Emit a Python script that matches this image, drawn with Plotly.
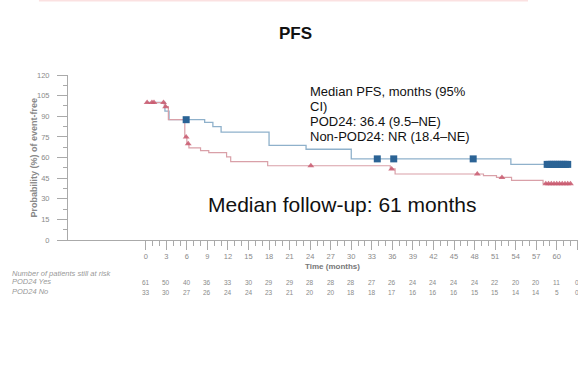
import plotly.graph_objects as go

# ---- data -------------------------------------------------------------
# Kaplan-Meier step curves (time in months, event-free probability in %)
pod24_t = [0, 2.7, 3.3, 5.7, 6.0, 6.3, 8.0, 9.2, 11.8, 12.4, 17.8, 35.7, 36.4, 49.3, 51.2, 53.4, 58.0, 62.2]
pod24_s = [100, 97, 87.5, 75, 70, 67, 65, 63.5, 60.5, 57, 54, 51.7, 48, 46.8, 45.5, 43.3, 41, 41]
pod24_censor_t = [0.2, 0.9, 1.2, 2.6, 2.9, 5.9, 6.2, 24.1, 35.9, 48.4, 52.0,
                  58.4, 58.8, 59.2, 59.6, 60.0, 60.4, 60.8, 61.2, 61.6, 62.0]

non_t = [0, 2.8, 3.4, 8.6, 9.8, 11.0, 18.0, 23.4, 30.0, 53.3, 61.7]
non_s = [100, 93.8, 87.5, 85.5, 82.5, 78.5, 68.8, 66, 59, 55, 55]
non_censor_t = [5.9, 33.8, 36.2, 47.8, 58.6, 58.9, 59.2, 59.5, 59.8, 60.1, 60.4, 60.7, 61.0, 61.3, 61.6]

# number at risk table
risk_months = list(range(0, 64, 3))
risk_yes = [61, 50, 40, 36, 33, 30, 29, 29, 28, 28, 28, 27, 26, 24, 24, 24, 24, 22, 20, 20, 11, 0]
risk_no = [33, 30, 27, 26, 24, 24, 23, 21, 20, 20, 18, 18, 17, 16, 16, 16, 15, 15, 14, 14, 5, 0]

y_ticks = list(range(0, 121, 15))
legend_lines = ["Median PFS, months (95%", "CI)", "POD24: 36.4 (9.5–NE)", "Non-POD24: NR (18.4–NE)"]


def step_value(t, times, surv):
    """Value of a right-continuous step curve at time t."""
    v = surv[0]
    for ti, si in zip(times, surv):
        if ti <= t:
            v = si
        else:
            break
    return v


FONT = "Arial, Liberation Sans, sans-serif"
GREY = "#8a8a8a"

fig = go.Figure()

fig.add_trace(go.Scatter(x=non_t, y=non_s, mode="lines", line=dict(shape="hv", color="#8fb1cb", width=1.3),
                         hoverinfo="skip", showlegend=False))
fig.add_trace(go.Scatter(x=pod24_t, y=pod24_s, mode="lines", line=dict(shape="hv", color="#d9a0a8", width=1.2),
                         hoverinfo="skip", showlegend=False))

fig.add_trace(go.Scatter(x=non_censor_t, y=[step_value(t, non_t, non_s) for t in non_censor_t],
                         mode="markers", marker=dict(symbol="square", size=7, color="#2b6395"),
                         showlegend=False, cliponaxis=False))
fig.add_trace(go.Scatter(x=pod24_censor_t, y=[step_value(t, pod24_t, pod24_s) for t in pod24_censor_t],
                         mode="markers", marker=dict(symbol="triangle-up", size=6, color="#c95a70", opacity=0.85),
                         showlegend=False, cliponaxis=False))

ann = []
# number-at-risk rows, placed on the x scale
for row, yp in ((risk_yes, -0.293), (risk_no, -0.352)):
    for m, v in zip(risk_months, row):
        ann.append(dict(text=str(v), x=m, y=yp, xref="x", yref="paper", showarrow=False,
                        font=dict(size=6.5, color=GREY, family=FONT)))

ann.append(dict(text="<b>PFS</b>", x=0.446, y=1.321, xref="paper", yref="paper", showarrow=False,
                font=dict(size=17, color="#111", family=FONT)))
ann.append(dict(text="<b>Probability (%) of event-free</b>", x=-0.0804, y=0.5, xref="paper", yref="paper",
                showarrow=False, textangle=-90, font=dict(size=9, color="#888", family=FONT)))
ann.append(dict(text="<b>Time (months)</b>", x=27.2, y=-0.199, xref="x", yref="paper", showarrow=False,
                font=dict(size=8, color="#777", family=FONT)))
ann.append(dict(text="<i>Number of patients still at risk</i>", x=-0.1137, y=-0.240, xref="paper", yref="paper",
                xanchor="left", showarrow=False, font=dict(size=7.5, color="#999", family=FONT)))
ann.append(dict(text="<i>POD24 Yes</i>", x=-0.1137, y=-0.293, xref="paper", yref="paper",
                xanchor="left", showarrow=False, font=dict(size=7.5, color="#999", family=FONT)))
ann.append(dict(text="<i>POD24 No</i>", x=-0.1137, y=-0.352, xref="paper", yref="paper",
                xanchor="left", showarrow=False, font=dict(size=7.5, color="#999", family=FONT)))
for line, yp in zip(legend_lines, [0.899, 0.808, 0.717, 0.630]):
    ann.append(dict(text=line, x=0.4706, y=yp, xref="paper", yref="paper", xanchor="left", yanchor="middle",
                    showarrow=False, font=dict(size=13, color="#111", family=FONT)))
ann.append(dict(text="Median follow-up: 61 months", x=0.537, y=0.133, xref="paper", yref="paper",
                showarrow=False, font=dict(size=21, color="#111", family=FONT)))

fig.update_layout(
    width=578, height=371,
    margin=dict(l=68, r=0, t=75, b=131),
    paper_bgcolor="white", plot_bgcolor="white",
    showlegend=False,
    annotations=ann,
    shapes=[dict(type="line", xref="paper", yref="paper", x0=-0.057, x1=0.902, y0=1.451, y1=1.451,
                 line=dict(color="#fbe1e1", width=2))],
    xaxis=dict(range=[-11.35, 63.1], tickmode="array", tickvals=risk_months,
               ticks="outside", ticklen=9, tickcolor="#aaa", showline=True, linecolor="#aaa",
               showgrid=False, zeroline=False, ticklabelstandoff=0,
               tickfont=dict(size=7.5, color=GREY, family=FONT),
               minor=dict(tickmode="array", tickvals=list(range(0, 64)), ticks="outside", ticklen=5,
                          tickcolor="#aaa", showgrid=False)),
    yaxis=dict(range=[0, 120], tickmode="array", tickvals=y_ticks,
               ticks="outside", ticklen=10, tickcolor="#aaa", showline=True, linecolor="#aaa",
               showgrid=False, zeroline=False, ticklabelstandoff=6,
               tickfont=dict(size=7.5, color=GREY, family=FONT),
               minor=dict(dtick=7.5, tick0=0, ticks="outside", ticklen=4, tickcolor="#aaa", showgrid=False)),
)

fig.write_html("out.html")
